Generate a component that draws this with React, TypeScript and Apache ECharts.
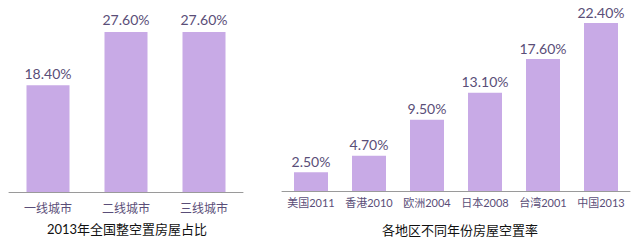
import React, { useEffect, useRef } from "react";
import * as echarts from "echarts";

const cityCategories = ["一线城市", "二线城市", "三线城市"];
const cityValues = [18.4, 27.6, 27.6];
const regionCategories = ["美国2011", "香港2010", "欧洲2004", "日本2008", "台湾2001", "中国2013"];
const regionValues = [2.5, 4.7, 9.5, 13.1, 17.6, 22.4];
const leftTitle = "2013年全国整空置房屋占比";
const rightTitle = "各地区不同年份房屋空置率";

const BAR = "#c8aae6";
const TXT = "#5a4e78";
const FONT = "Lato, 'Noto Sans CJK SC', sans-serif";

export default function App() {
  const ref = useRef<HTMLDivElement>(null);
  useEffect(() => {
    if (!ref.current) return;
    const chart = echarts.init(ref.current, undefined, { renderer: "svg" });
    const fmt = (p: any) => p.value.toFixed(2) + "%";
    chart.setOption({
      animation: false,
      backgroundColor: "#ffffff",
      textStyle: { fontFamily: FONT },
      grid: [
        { left: 9, width: 234, top: 18, bottom: 51 },
        { left: 282, width: 348, top: 11, bottom: 52 },
      ],
      xAxis: [
        {
          gridIndex: 0,
          type: "category",
          data: cityCategories,
          axisLine: { lineStyle: { color: "#9a9a9a", width: 1 } },
          axisTick: { show: false },
          axisLabel: { color: TXT, fontSize: 12, margin: 10, interval: 0, fontFamily: FONT },
        },
        {
          gridIndex: 1,
          type: "category",
          data: regionCategories,
          axisLine: { lineStyle: { color: "#9a9a9a", width: 1 } },
          axisTick: { show: false },
          axisLabel: { color: TXT, fontSize: 11, margin: 6, interval: 0, hideOverlap: false, fontFamily: FONT },
        },
      ],
      yAxis: [
        { gridIndex: 0, type: "value", min: 0, max: 30, show: false },
        { gridIndex: 1, type: "value", min: 0, max: 24, show: false },
      ],
      series: [
        {
          type: "bar",
          xAxisIndex: 0,
          yAxisIndex: 0,
          data: cityValues,
          barWidth: 43,
          itemStyle: { color: BAR },
          label: {
            show: true,
            position: "top",
            distance: 5,
            formatter: fmt,
            color: TXT,
            fontSize: 14,
            fontFamily: FONT,
          },
        },
        {
          type: "bar",
          xAxisIndex: 1,
          yAxisIndex: 1,
          data: regionValues,
          barWidth: 34,
          itemStyle: { color: BAR },
          label: {
            show: true,
            position: "top",
            distance: 4,
            formatter: fmt,
            color: TXT,
            fontSize: 14,
            fontFamily: FONT,
          },
        },
      ],
      graphic: [
        {
          type: "text",
          x: 127,
          y: 229,
          style: {
            text: leftTitle,
            fill: "#111111",
            fontSize: 13,
            fontFamily: FONT,
            textAlign: "center",
            textVerticalAlign: "middle",
          },
        },
        {
          type: "text",
          x: 460,
          y: 230,
          style: {
            text: rightTitle,
            fill: "#111111",
            fontSize: 13,
            fontFamily: FONT,
            textAlign: "center",
            textVerticalAlign: "middle",
          },
        },
      ],
    });
    return () => chart.dispose();
  }, []);
  return (
    <div
      ref={ref}
      style={{ position: "fixed", left: 0, top: 0, width: 639, height: 243 }}
    />
  );
}
